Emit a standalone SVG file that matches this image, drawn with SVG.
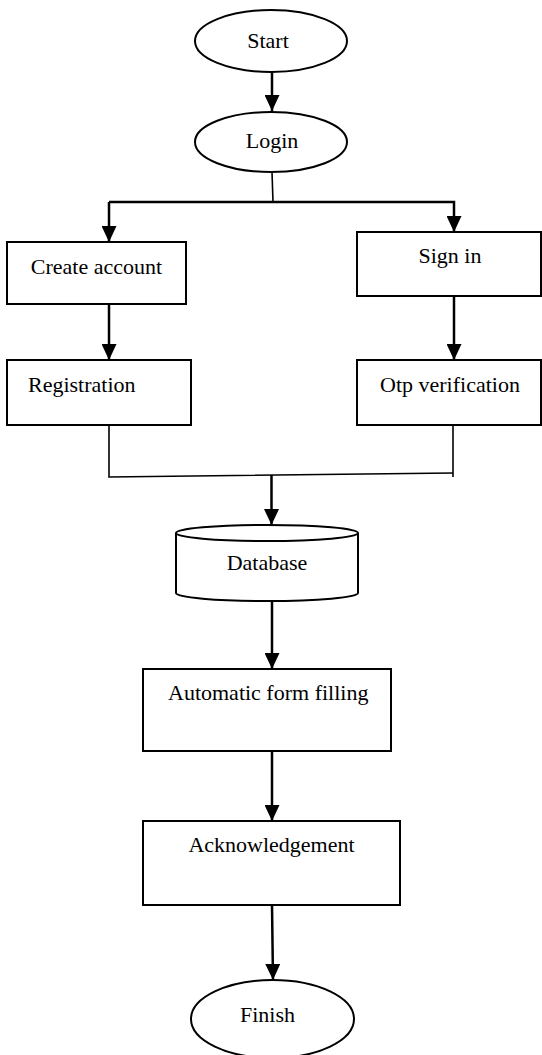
<svg xmlns="http://www.w3.org/2000/svg" width="542" height="1055" viewBox="0 0 542 1055">
<style>
.shape{fill:#fff;stroke:#000;stroke-width:2}
.lbl{font-family:"Liberation Serif","Times New Roman",serif;font-size:22px;fill:#000}
.arr{fill:none;stroke:#000;stroke-width:2.5}
.thin{fill:none;stroke:#000;stroke-width:1.6}
</style>
<defs>
<marker id="ah" markerUnits="userSpaceOnUse" markerWidth="16" markerHeight="15" refX="16" refY="7.5" orient="auto">
<path d="M0,0 L16,7.5 L0,15 z" fill="#000"/>
</marker>
</defs>
<rect width="542" height="1055" fill="#fff"/>
<g id="connectors">
<line class="arr" x1="272" y1="72" x2="272" y2="111" marker-end="url(#ah)"/>
<line class="thin" x1="272" y1="172" x2="273" y2="202"/>
<polyline class="arr" points="109,202 454,202 454,232" marker-end="url(#ah)"/>
<line class="arr" x1="109" y1="202" x2="109" y2="242" marker-end="url(#ah)"/>
<line class="arr" x1="109" y1="304" x2="109" y2="360" marker-end="url(#ah)"/>
<line class="arr" x1="454" y1="296" x2="454" y2="360" marker-end="url(#ah)"/>
<polyline class="thin" points="109,425 109,477 453,473"/>
<line class="thin" x1="453" y1="425" x2="453" y2="477"/>
<line class="arr" x1="271.5" y1="475" x2="271.5" y2="525" marker-end="url(#ah)"/>
<line class="arr" x1="272" y1="601" x2="272" y2="669" marker-end="url(#ah)"/>
<line class="arr" x1="272" y1="751" x2="272" y2="821" marker-end="url(#ah)"/>
<line class="arr" x1="272" y1="905" x2="273" y2="980" marker-end="url(#ah)"/>
</g>
<g id="start">
<ellipse class="shape" cx="271" cy="41" rx="76" ry="31"/>
<text class="lbl" x="268" y="48" text-anchor="middle">Start</text>
</g>
<g id="login">
<ellipse class="shape" cx="271" cy="142" rx="76" ry="30"/>
<text class="lbl" x="272" y="148" text-anchor="middle">Login</text>
</g>
<g id="create-account">
<rect class="shape" x="7" y="242" width="179" height="62"/>
<text class="lbl" x="96.5" y="274" text-anchor="middle">Create account</text>
</g>
<g id="sign-in">
<rect class="shape" x="357" y="232" width="184" height="64"/>
<text class="lbl" x="450" y="263" text-anchor="middle">Sign in</text>
</g>
<g id="registration">
<rect class="shape" x="7" y="360" width="184" height="65"/>
<text class="lbl" x="28" y="392">Registration</text>
</g>
<g id="otp-verification">
<rect class="shape" x="357" y="360" width="184" height="65"/>
<text class="lbl" x="380" y="392">Otp verification</text>
</g>
<g id="database">
<path class="shape" d="M176,533 L176,593 A91,8 0 0 0 358,593 L358,533"/>
<ellipse class="shape" cx="267" cy="533" rx="91" ry="8"/>
<text class="lbl" x="267" y="570" text-anchor="middle">Database</text>
</g>
<g id="automatic-form-filling">
<rect class="shape" x="143" y="669" width="248" height="82"/>
<text class="lbl" x="168" y="700">Automatic form filling</text>
</g>
<g id="acknowledgement">
<rect class="shape" x="143" y="821" width="257" height="84"/>
<text class="lbl" x="271.5" y="852" text-anchor="middle">Acknowledgement</text>
</g>
<g id="finish">
<ellipse class="shape" cx="272.5" cy="1019" rx="81.5" ry="39"/>
<text class="lbl" x="267.5" y="1022" text-anchor="middle">Finish</text>
</g>
</svg>
